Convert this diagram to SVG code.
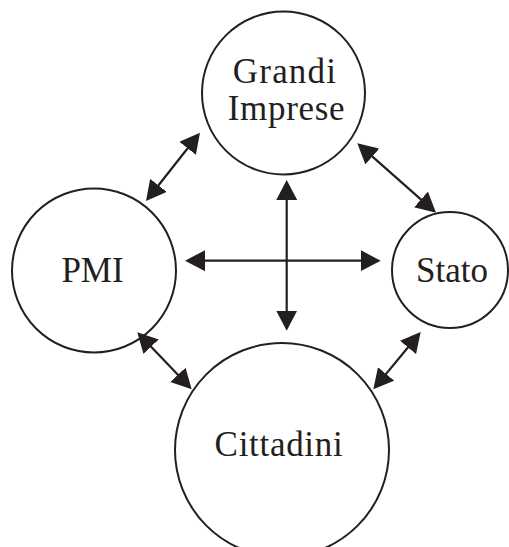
<svg xmlns="http://www.w3.org/2000/svg" width="509" height="547" viewBox="0 0 509 547">
<style>
.node circle{fill:#fff;stroke:#231f20;stroke-width:2}
.node text{font-family:"Liberation Serif","Times New Roman",serif;font-size:35px;fill:#231f20;text-anchor:middle}
.conn line{stroke:#231f20;stroke-width:2.2;marker-start:url(#ah);marker-end:url(#ah)}
</style>
<defs>
<marker id="ah" markerUnits="userSpaceOnUse" markerWidth="21" markerHeight="22" refX="10" refY="10.5" orient="auto-start-reverse" viewBox="0 0 21 22">
<path d="M0,0 L20,10.5 L0,21 Z" fill="#231f20"/>
</marker>
</defs>
<rect width="509" height="547" fill="#fff"/>
<g id="grandi-imprese" class="node">
<circle cx="283.5" cy="93" r="81.5"/>
<text x="285" y="83" letter-spacing="1.2">Grandi</text>
<text x="286.5" y="120" letter-spacing="0.7">Imprese</text>
</g>
<g id="pmi" class="node">
<circle cx="94" cy="270.5" r="82"/>
<text x="92.5" y="282">PMI</text>
</g>
<g id="stato" class="node">
<circle cx="450" cy="270" r="58"/>
<text x="452" y="282">Stato</text>
</g>
<g id="cittadini" class="node">
<circle cx="282" cy="450" r="107"/>
<text x="279" y="456" letter-spacing="0.7">Cittadini</text>
</g>
<g id="connectors" class="conn">
<line x1="152.2" y1="193.2" x2="193.8" y2="140.5"/>
<line x1="364.8" y1="149.9" x2="428.5" y2="206.1"/>
<line x1="144.2" y1="339.5" x2="184.8" y2="382.1"/>
<line x1="379.7" y1="381.6" x2="414.3" y2="339.7"/>
<line x1="286.7" y1="190" x2="286.7" y2="320.7"/>
<line x1="195" y1="260.7" x2="370.7" y2="260.7"/>
</g>
</svg>
